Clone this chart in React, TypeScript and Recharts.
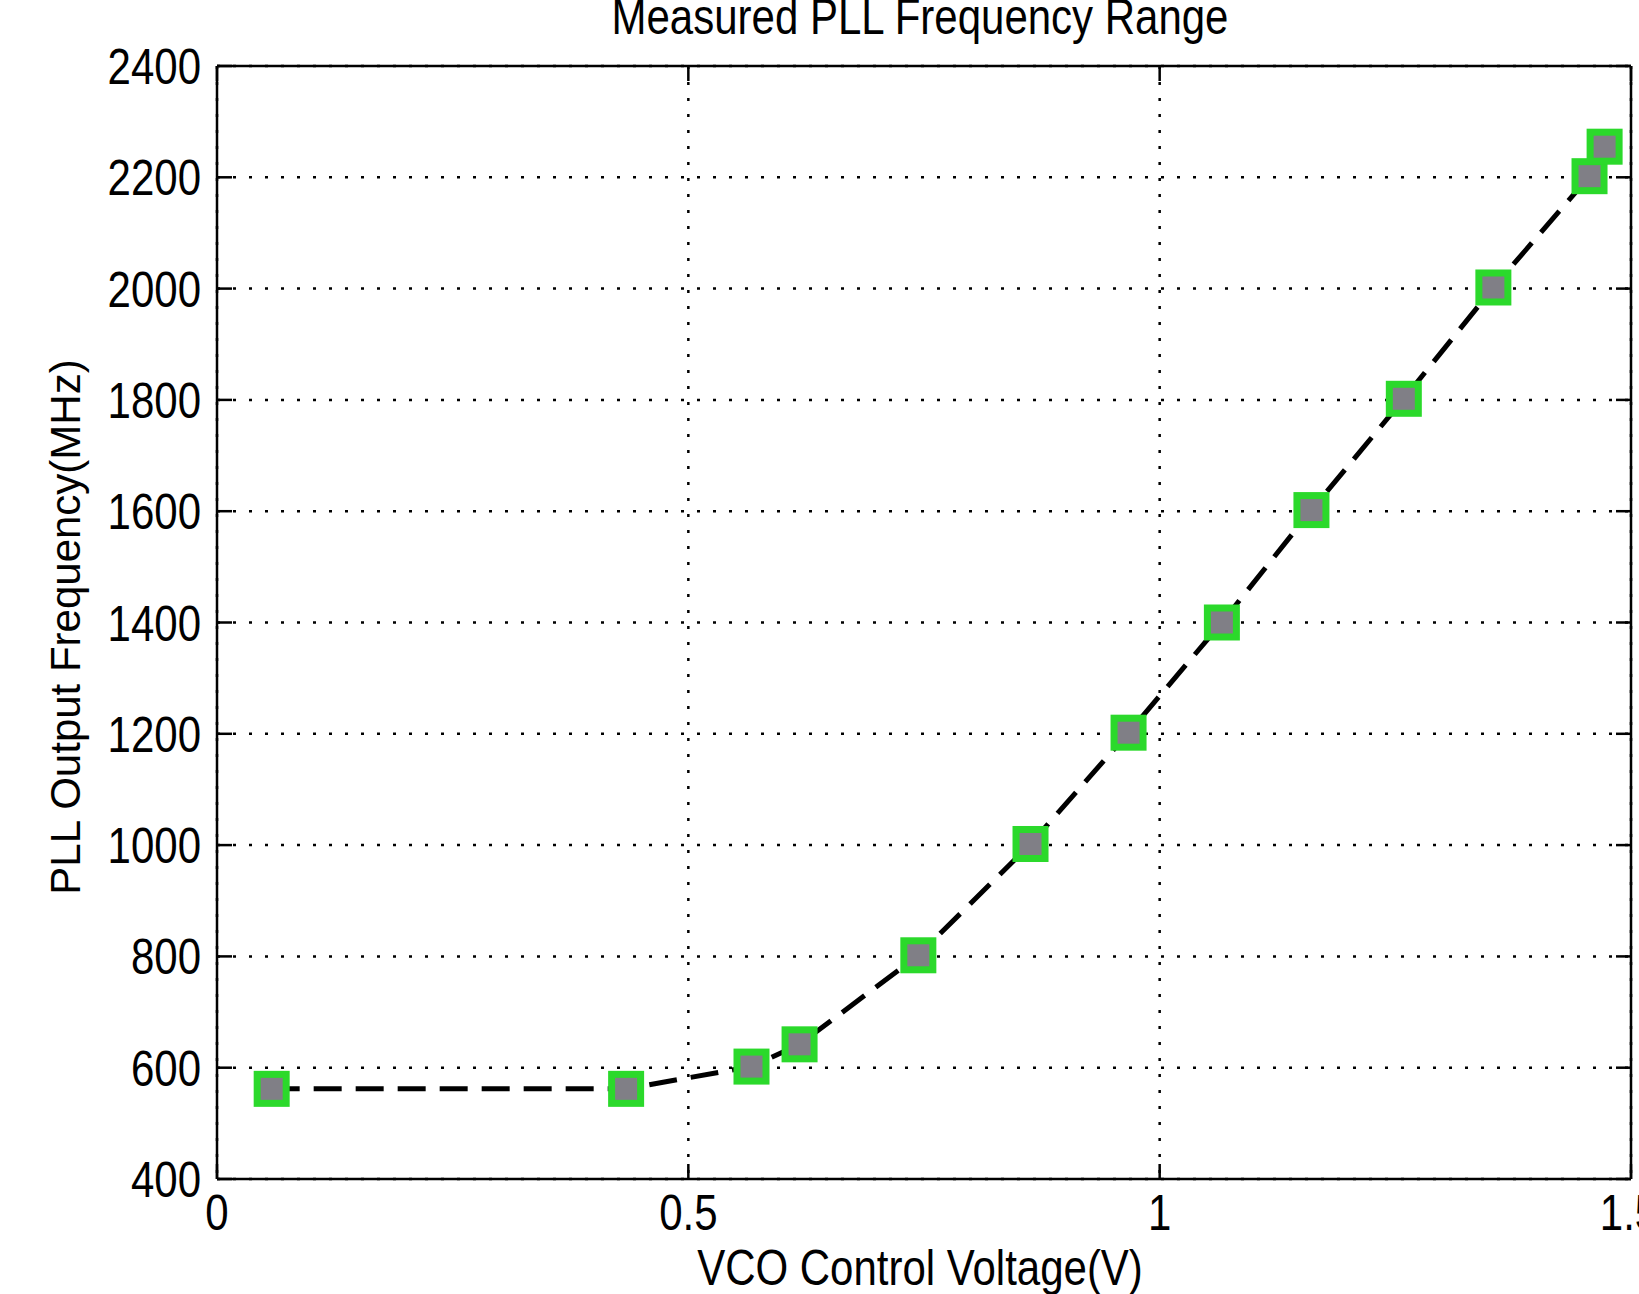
import React from "react";
import {
  ComposedChart,
  Line,
  Scatter,
  XAxis,
  YAxis,
  CartesianGrid,
} from "recharts";

// lectura de la figura: tension de control (V) y frecuencia medida (MHz)
const voltage = [0.058, 0.434, 0.567, 0.618, 0.744, 0.863, 0.967, 1.066, 1.161, 1.259, 1.354, 1.456, 1.472];
const frequency = [562, 562, 602, 642, 802, 1002, 1202, 1400, 1602, 1802, 2002, 2202, 2255];

const xTicks = [0, 0.5, 1, 1.5];
const yTicks = [400, 600, 800, 1000, 1200, 1400, 1600, 1800, 2000, 2200, 2400];

const data = voltage.map((v, i) => ({ v, f: frequency[i] }));

const FONT = "'Liberation Sans', Arial, sans-serif";
const STRETCH = 1.2;

const YTick = (props: any) => {
  const { x, y, payload } = props;
  return (
    <text
      transform={`translate(${x},${y}) scale(1,${STRETCH})`}
      x={0}
      y={15}
      textAnchor="end"
      fontSize={42}
      fontFamily={FONT}
      fill="#000"
    >
      {payload.value}
    </text>
  );
};

const XTick = (props: any) => {
  const { x, y, payload } = props;
  return (
    <text
      transform={`translate(${x},${y}) scale(1,${STRETCH})`}
      x={0}
      y={42}
      textAnchor="middle"
      fontSize={42}
      fontFamily={FONT}
      fill="#000"
    >
      {payload.value}
    </text>
  );
};

const NoTick = () => <g />;

const Marker = (props: any) => {
  const { cx, cy } = props;
  if (cx == null || cy == null) return <g />;
  return (
    <g>
      <rect x={cx - 18} y={cy - 18} width={36} height={36} fill="#2bd92b" />
      <rect x={cx - 11} y={cy - 11} width={22} height={22} fill="#807f86" />
    </g>
  );
};

const axisLine = { stroke: "#000", strokeWidth: 2.5 };
const tickLine = { stroke: "#000", strokeWidth: 2.5 };

export default function App() {
  return (
    <div style={{ position: "relative", width: 1639, height: 1294, background: "#fff" }}>
      <style>{`body{margin:0;overflow:hidden;}`}</style>
      <ComposedChart
        width={1639}
        height={1294}
        data={data}
        margin={{ top: 56, right: 2, bottom: 55, left: 157 }}
      >
        <CartesianGrid stroke="#000" strokeWidth={2.5} strokeDasharray="3 13" />
        <XAxis
          xAxisId={0}
          dataKey="v"
          type="number"
          domain={[0, 1.5]}
          ticks={xTicks}
          height={60}
          axisLine={axisLine}
          tickLine={tickLine}
          tickSize={-15}
          tickMargin={16}
          tick={XTick}
          allowDataOverflow
        />
        <XAxis
          xAxisId="top"
          orientation="top"
          dataKey="v"
          type="number"
          domain={[0, 1.5]}
          ticks={xTicks}
          height={10}
          axisLine={axisLine}
          tickLine={tickLine}
          tickSize={-15}
          tick={NoTick}
          allowDataOverflow
        />
        <YAxis
          yAxisId={0}
          type="number"
          domain={[400, 2400]}
          ticks={yTicks}
          width={60}
          axisLine={axisLine}
          tickLine={tickLine}
          tickSize={-15}
          tickMargin={31}
          tick={YTick}
          allowDataOverflow
        />
        <YAxis
          yAxisId="right"
          orientation="right"
          type="number"
          domain={[400, 2400]}
          ticks={yTicks}
          width={6}
          axisLine={axisLine}
          tickLine={tickLine}
          tickSize={-15}
          tick={NoTick}
          allowDataOverflow
        />
        <Line
          dataKey="f"
          type="linear"
          stroke="#000"
          strokeWidth={5}
          strokeDasharray="28 14"
          dot={false}
          activeDot={false}
          isAnimationActive={false}
        />
        <Scatter dataKey="f" shape={Marker} isAnimationActive={false} />
        {/* serie invisible para enganchar los ejes superior y derecho */}
        <Scatter
          dataKey="f"
          xAxisId="top"
          yAxisId="right"
          shape={NoTick}
          isAnimationActive={false}
        />
      </ComposedChart>
      <svg
        width={1639}
        height={1294}
        style={{ position: "absolute", left: 0, top: 0, pointerEvents: "none" }}
      >
        <text
          transform={`translate(920,34) scale(1,${STRETCH})`}
          textAnchor="middle"
          fontSize={42}
          fontFamily={FONT}
          fill="#000"
        >
          Measured PLL Frequency Range
        </text>
        <text
          transform="translate(80,627) rotate(-90)"
          textAnchor="middle"
          fontSize={42}
          fontFamily={FONT}
          fill="#000"
        >
          PLL Output Frequency(MHz)
        </text>
        <text
          transform={`translate(920,1285) scale(1,${STRETCH})`}
          textAnchor="middle"
          fontSize={42}
          fontFamily={FONT}
          fill="#000"
        >
          VCO Control Voltage(V)
        </text>
      </svg>
    </div>
  );
}
